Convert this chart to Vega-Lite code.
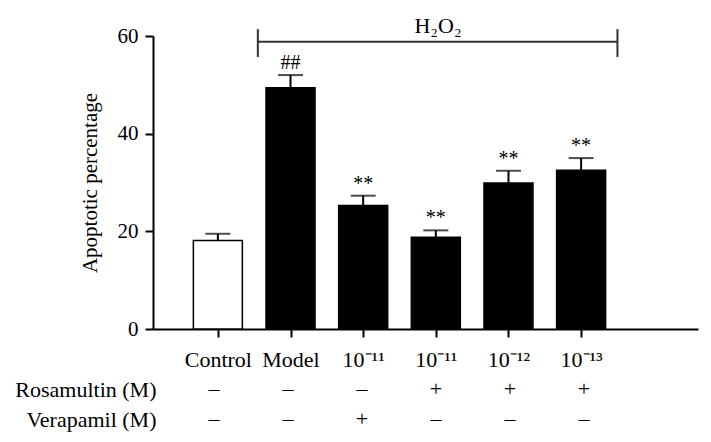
{
  "$schema": "https://vega.github.io/schema/vega-lite/v6.json",
  "padding": {"left": 14, "top": 15, "right": 5, "bottom": 5},
  "spacing": 4,
  "config": {
    "font": "Liberation Serif",
    "view": {"stroke": null},
    "axis": {"grid": false, "domainColor": "black", "tickColor": "black", "labelColor": "black", "titleColor": "black", "labelFont": "Liberation Serif", "titleFont": "Liberation Serif", "titleFontWeight": "normal"}
  },
  "datasets": {
    "bars": [
      {"group": "Control", "pos": 1, "stress": "none", "mean": 18.1, "upper": 19.5, "sig": ""},
      {"group": "Model", "pos": 2, "stress": "H2O2", "mean": 49.4, "upper": 52.0, "sig": "##"},
      {"group": "10⁻¹¹ + Verapamil", "pos": 3, "stress": "H2O2", "mean": 25.3, "upper": 27.3, "sig": "**"},
      {"group": "10⁻¹¹ Rosamultin", "pos": 4, "stress": "H2O2", "mean": 18.8, "upper": 20.2, "sig": "**"},
      {"group": "10⁻¹² Rosamultin", "pos": 5, "stress": "H2O2", "mean": 29.9, "upper": 32.4, "sig": "**"},
      {"group": "10⁻¹³ Rosamultin", "pos": 6, "stress": "H2O2", "mean": 32.5, "upper": 35.0, "sig": "**"}
    ],
    "bracket": [
      {"label": "H₂O₂", "from": 1.55, "to": 6.5, "y": 58.8, "mid": 4.03, "texty": 62.0}
    ],
    "bracketEnds": [
      {"x": 1.55, "low": 55.7, "high": 61.4},
      {"x": 6.5, "low": 55.7, "high": 61.4}
    ],
    "table": [
      {"pos": 1, "row": "Rosamultin (M)", "sign": "–"},
      {"pos": 2, "row": "Rosamultin (M)", "sign": "–"},
      {"pos": 3, "row": "Rosamultin (M)", "sign": "–"},
      {"pos": 4, "row": "Rosamultin (M)", "sign": "+"},
      {"pos": 5, "row": "Rosamultin (M)", "sign": "+"},
      {"pos": 6, "row": "Rosamultin (M)", "sign": "+"},
      {"pos": 1, "row": "Verapamil (M)", "sign": "–"},
      {"pos": 2, "row": "Verapamil (M)", "sign": "–"},
      {"pos": 3, "row": "Verapamil (M)", "sign": "+"},
      {"pos": 4, "row": "Verapamil (M)", "sign": "–"},
      {"pos": 5, "row": "Verapamil (M)", "sign": "–"},
      {"pos": 6, "row": "Verapamil (M)", "sign": "–"}
    ]
  },
  "vconcat": [
    {
      "width": 545,
      "height": 293,
      "layer": [
        {
          "data": {"name": "bars"},
          "mark": {"type": "bar", "orient": "vertical", "width": 49, "stroke": "black", "strokeWidth": 1.5},
          "encoding": {
            "x": {"field": "pos", "type": "quantitative", "scale": {"domain": [0.176, 7.54], "nice": false, "zero": false},
                  "axis": {"title": null, "values": [1, 2, 3, 4, 5, 6], "labelExpr": "['Control','Model','10⁻¹¹','10⁻¹¹','10⁻¹²','10⁻¹³'][datum.value - 1]", "tickSize": 8, "tickWidth": 2, "domainWidth": 2, "labelFontSize": 22, "labelPadding": 12, "labelFlush": false, "labelOverlap": false}},
            "y": {"field": "mean", "type": "quantitative", "scale": {"domain": [0, 60], "nice": false},
                  "axis": {"title": "Apoptotic percentage", "values": [0, 20, 40, 60], "tickSize": 8, "tickWidth": 2, "domainWidth": 2, "labelFontSize": 21, "labelPadding": 7, "titleFontSize": 21, "titlePadding": 17}},
            "fill": {"field": "stress", "type": "nominal", "scale": {"domain": ["none", "H2O2"], "range": ["white", "black"]}, "legend": null}
          }
        },
        {
          "data": {"name": "bars"},
          "mark": {"type": "rule", "strokeWidth": 2, "color": "black"},
          "encoding": {
            "x": {"field": "pos", "type": "quantitative"},
            "y": {"field": "mean", "type": "quantitative"},
            "y2": {"field": "upper"}
          }
        },
        {
          "data": {"name": "bars"},
          "mark": {"type": "tick", "orient": "horizontal", "size": 25, "thickness": 2, "color": "black"},
          "encoding": {
            "x": {"field": "pos", "type": "quantitative"},
            "y": {"field": "upper", "type": "quantitative"}
          }
        },
        {
          "data": {"name": "bars"},
          "mark": {"type": "text", "fontSize": 20, "baseline": "middle", "dy": -12, "color": "black"},
          "encoding": {
            "x": {"field": "pos", "type": "quantitative"},
            "y": {"field": "upper", "type": "quantitative"},
            "text": {"field": "sig"}
          }
        },
        {
          "data": {"name": "bracket"},
          "mark": {"type": "rule", "strokeWidth": 2, "color": "#333333"},
          "encoding": {
            "x": {"field": "from", "type": "quantitative"},
            "x2": {"field": "to"},
            "y": {"field": "y", "type": "quantitative"}
          }
        },
        {
          "data": {"name": "bracketEnds"},
          "mark": {"type": "rule", "strokeWidth": 2, "color": "#333333"},
          "encoding": {
            "x": {"field": "x", "type": "quantitative"},
            "y": {"field": "low", "type": "quantitative"},
            "y2": {"field": "high"}
          }
        },
        {
          "data": {"name": "bracket"},
          "mark": {"type": "text", "fontSize": 22, "baseline": "middle", "color": "black"},
          "encoding": {
            "x": {"field": "mid", "type": "quantitative"},
            "y": {"field": "texty", "type": "quantitative"},
            "text": {"field": "label"}
          }
        }
      ]
    },
    {
      "width": 545,
      "height": 60,
      "data": {"name": "table"},
      "mark": {"type": "text", "fontSize": 22, "color": "black"},
      "encoding": {
        "x": {"field": "pos", "type": "quantitative", "scale": {"domain": [0.176, 7.54], "nice": false, "zero": false}, "axis": null},
        "y": {"field": "row", "type": "nominal", "scale": {"domain": ["Rosamultin (M)", "Verapamil (M)"]},
              "axis": {"title": null, "domain": false, "ticks": false, "tickSize": 0, "labelFontSize": 22, "labelPadding": -3}},
        "text": {"field": "sign"}
      }
    }
  ]
}
